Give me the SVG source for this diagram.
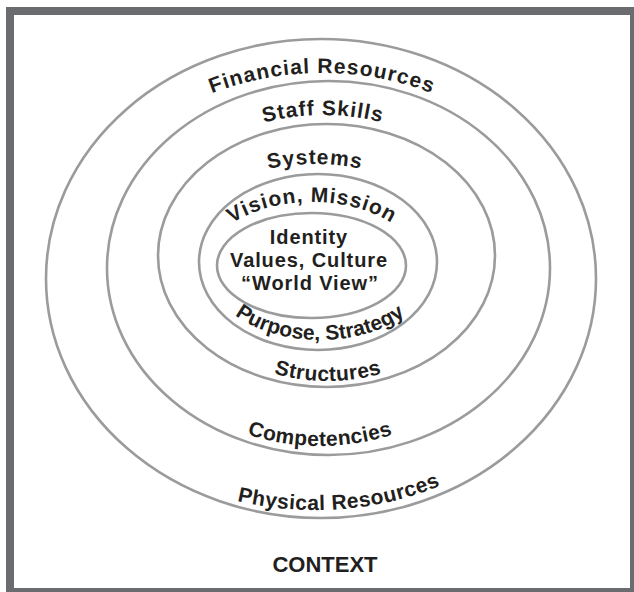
<svg xmlns="http://www.w3.org/2000/svg" xmlns:xlink="http://www.w3.org/1999/xlink" width="634" height="592" viewBox="0 0 634 592">
<style>
.ring{fill:none;stroke:#9a9b9d;stroke-width:2.6}
.lbl{font-family:"Liberation Sans",Arial,sans-serif;font-weight:bold;font-size:21px;fill:#231f20}
.ctr{font-family:"Liberation Sans",Arial,sans-serif;font-weight:bold;font-size:20px;letter-spacing:0.9px;fill:#231f20;text-anchor:middle}
</style>
<defs>
<path id="pFin" d="M 72,273 A 250,200 0 0 1 572,273"/>
<path id="pStaff" d="M 128,275 A 195,160 0 0 1 518,275"/>
<path id="pSys" d="M 165,264 A 150,100 0 0 1 465,264"/>
<path id="pVis" d="M 202,270 A 110,68 0 0 1 422,270"/>
<path id="pPur" d="M 210,272 A 110,68 0 0 0 430,272"/>
<path id="pStr" d="M 178,271 A 150,110 0 0 0 478,271"/>
<path id="pComp" d="M 125,286 A 195,160 0 0 0 515,286"/>
<path id="pPhys" d="M 65,330 A 250,180 0 0 0 565,330"/>
</defs>
<rect id="frame" x="10" y="11" width="624" height="581" fill="#ffffff" stroke="#6b6c70" stroke-width="8"/>
<g id="rings">
<ellipse id="ring1" class="ring" cx="321" cy="278.5" rx="275" ry="239.5"/>
<ellipse id="ring2" class="ring" cx="328.5" cy="268" rx="221.5" ry="187"/>
<ellipse id="ring3" class="ring" cx="326.5" cy="255.5" rx="168.5" ry="131.5"/>
<ellipse id="ring4" class="ring" cx="318" cy="262" rx="119" ry="88"/>
<ellipse id="ring5" class="ring" cx="311.5" cy="265.5" rx="94.5" ry="52.5"/>
</g>
<g id="labels">
<text class="lbl" letter-spacing="1.1"><textPath xlink:href="#pFin" href="#pFin" startOffset="50%" text-anchor="middle">Financial Resources</textPath></text>
<text class="lbl" letter-spacing="1"><textPath xlink:href="#pStaff" href="#pStaff" startOffset="50%" text-anchor="middle">Staff Skills</textPath></text>
<text class="lbl" letter-spacing="1.1"><textPath xlink:href="#pSys" href="#pSys" startOffset="50%" text-anchor="middle">Systems</textPath></text>
<text class="lbl" letter-spacing="1"><textPath xlink:href="#pVis" href="#pVis" startOffset="50%" text-anchor="middle">Vision, Mission</textPath></text>
<text class="lbl" letter-spacing="0"><textPath xlink:href="#pPur" href="#pPur" startOffset="50%" text-anchor="middle">Purpose, Strategy</textPath></text>
<text class="lbl" letter-spacing="0.45"><textPath xlink:href="#pStr" href="#pStr" startOffset="50%" text-anchor="middle">Structures</textPath></text>
<text class="lbl" letter-spacing="0.4"><textPath xlink:href="#pComp" href="#pComp" startOffset="50%" text-anchor="middle">Competencies</textPath></text>
<text class="lbl" letter-spacing="0.5"><textPath xlink:href="#pPhys" href="#pPhys" startOffset="365" text-anchor="middle">Physical Resources</textPath></text>
</g>
<g id="core">
<text class="ctr"><tspan x="309" y="244">Identity</tspan><tspan x="309" y="267">Values, Culture</tspan><tspan x="310" y="290">“World View”</tspan></text>
</g>
<text id="context" x="325" y="572" text-anchor="middle" font-family="'Liberation Sans',Arial,sans-serif" font-weight="bold" font-size="22px" fill="#231f20">CONTEXT</text>
</svg>
